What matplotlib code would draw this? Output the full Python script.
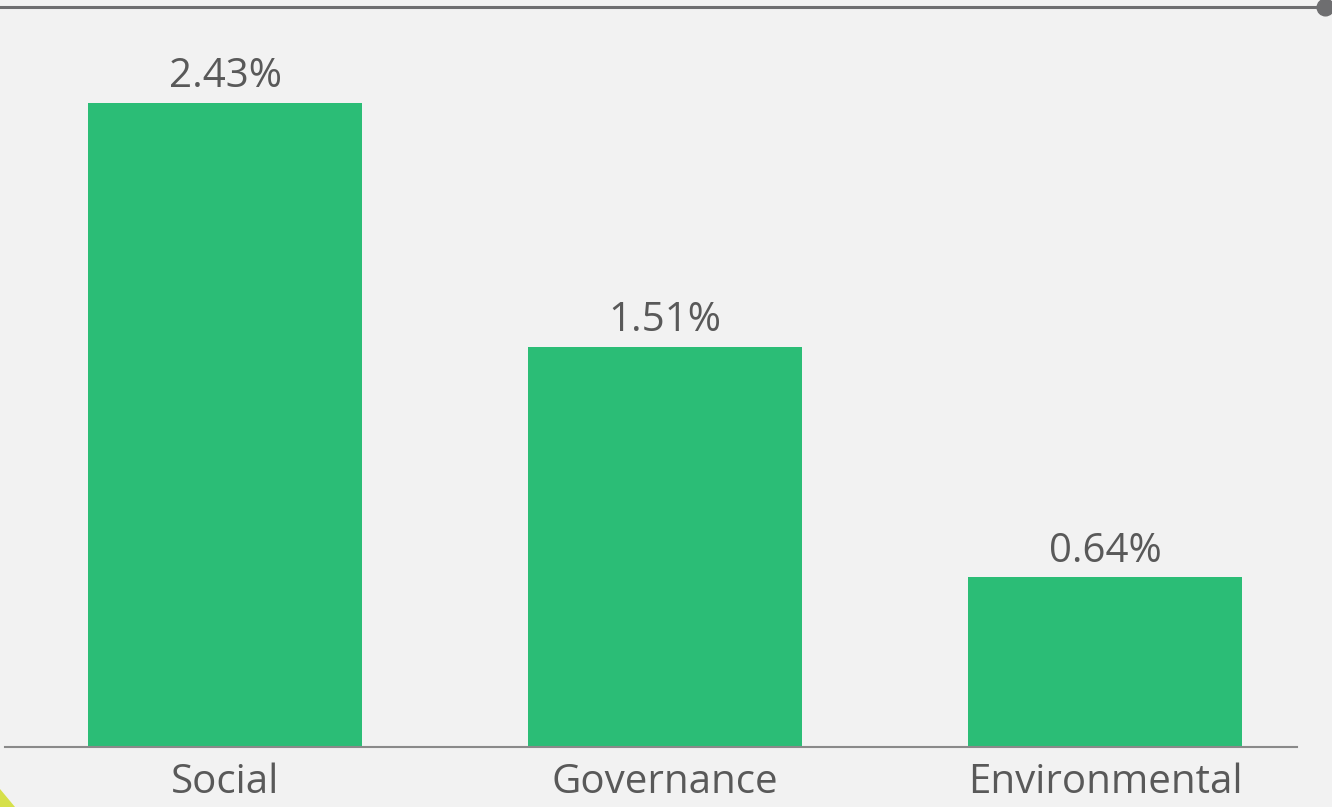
import matplotlib.pyplot as plt
from matplotlib.patches import Polygon

categories = ["Social", "Governance", "Environmental"]
values = [2.43, 1.51, 0.64]
labels = ["2.43%", "1.51%", "0.64%"]

bg = "#f2f2f2"
bar_color = "#2bbd76"
text_color = "#595959"

plt.rcParams['font.family'] = ['Open Sans', 'DejaVu Sans']

fig = plt.figure(figsize=(13.32, 8.07), dpi=100, facecolor=bg)
W, H = 1332, 807

# axes placed in pixel terms: baseline at y=747, left edge x=5, right x=1297
ax = fig.add_axes([5 / W, (H - 747) / H, 1292 / W, 740 / H])
ax.set_facecolor(bg)

x = range(len(categories))
ax.bar(x, values, width=0.623, color=bar_color, zorder=2)
ax.set_xlim(-0.5, 2.436)
ax.set_ylim(0, 740 / 265.2)

for i, (v, lab) in enumerate(zip(values, labels)):
    ax.text(i, v + 0.057, lab, ha="center", va="baseline",
            fontsize=29, color=text_color)

ax.set_xticks(list(x))
ax.set_xticklabels(categories, fontsize=29, color=text_color)
ax.tick_params(axis="x", length=0, pad=11)
ax.set_yticks([])

for s in ["top", "left", "right"]:
    ax.spines[s].set_visible(False)
ax.spines["bottom"].set_color("#8a8a8a")
ax.spines["bottom"].set_linewidth(1.5)

# header rule with end dot
fig.add_artist(plt.Line2D([0, 1325 / W], [1 - 7 / H, 1 - 7 / H],
                          transform=fig.transFigure, color="#6e6e70", linewidth=2.2))
fig.add_artist(plt.Line2D([1325 / W], [1 - 7 / H], transform=fig.transFigure,
                          marker="o", markersize=12, color="#6e6e70"))

# corner accent
fig.add_artist(Polygon([[0, 0], [0, 18 / H], [15 / W, 0]], closed=True,
                       transform=fig.transFigure, color="#d6e04a", linewidth=0))

fig.savefig("out.png", dpi=100, facecolor=bg)
